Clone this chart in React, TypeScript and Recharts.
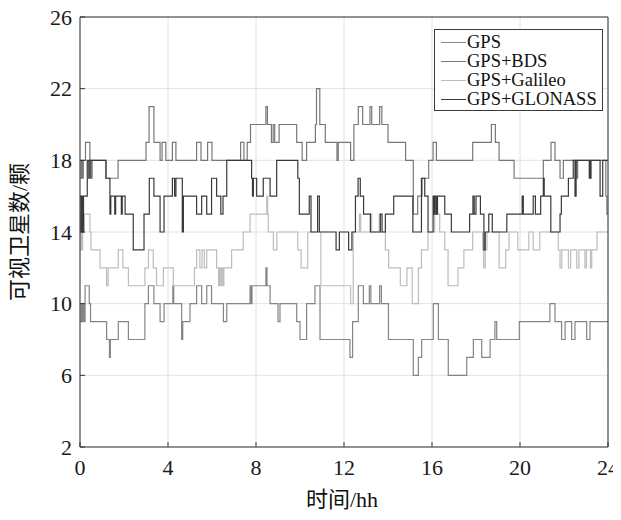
import React from 'react';
import { LineChart, Line, XAxis, YAxis, CartesianGrid, Legend } from 'recharts';

// ---- data ----
const seriesNames = ['GPS', 'GPS+BDS', 'GPS+Galileo', 'GPS+GLONASS'];
const xTicks = [0, 4, 8, 12, 16, 20, 24];
const yTicks = [2, 6, 10, 14, 18, 22, 26];

const gpsT = [0, 0.05, 0.1, 0.15, 0.2, 0.23, 0.42, 0.48, 1.21, 1.34, 1.38, 1.74, 2.2, 2.95, 3.11, 3.36, 3.64, 3.82, 4.22, 4.26, 4.62, 4.67, 5.0, 5.3, 5.53, 5.76, 5.98, 6.52, 6.67, 7.73, 7.78, 7.82, 8.45, 8.5, 8.64, 9.0, 9.09, 9.85, 10.0, 10.3, 10.68, 10.91, 12.27, 12.39, 12.65, 12.88, 13.15, 13.22, 13.62, 13.7, 14.02, 15.15, 15.38, 15.53, 16.06, 16.29, 16.74, 17.58, 17.88, 18.26, 18.64, 18.86, 18.94, 19.97, 21.36, 21.59, 21.89, 22.05, 22.35, 22.5, 23.03, 23.18, 24];
const gpsV = [9, 10, 9, 10, 9, 11, 10, 9, 8, 7, 8, 9, 8, 10, 11, 10, 9, 10, 11, 10, 8, 9, 10, 11, 10, 11, 10, 9, 10, 11, 10, 11, 12, 11, 10, 9, 10, 9, 8, 10, 11, 8, 7, 9, 11, 10, 11, 10, 11, 10, 8, 6, 7, 8, 10, 8, 6, 7, 8, 7, 8, 9, 8, 9, 10, 9, 8, 9, 8, 9, 8, 9, 9];

const bdsT = [0, 0.05, 0.1, 0.15, 0.25, 0.45, 0.5, 0.55, 1.18, 1.73, 3.0, 3.14, 3.36, 3.64, 3.73, 3.9, 4.2, 4.36, 5.3, 5.5, 5.8, 6.0, 7.3, 7.45, 7.6, 7.75, 8.45, 8.52, 8.7, 8.78, 8.85, 9.05, 9.85, 10.1, 10.3, 10.7, 10.75, 10.9, 11.15, 11.68, 11.74, 12.3, 12.45, 12.65, 12.85, 13.18, 13.26, 13.62, 13.72, 14.0, 14.8, 15.15, 15.35, 15.55, 15.85, 16.05, 16.2, 17.85, 18.7, 18.88, 19.05, 19.73, 21.06, 21.41, 21.59, 21.82, 21.97, 22.58, 22.62, 23.2, 23.24, 23.9, 23.95, 24];
const bdsV = [17, 18, 17, 18, 19, 18, 17, 18, 17, 18, 19, 21, 19, 18, 19, 18, 19, 18, 19, 18, 19, 18, 19, 18, 19, 20, 21, 20, 19, 20, 19, 20, 19, 18, 19, 20, 22, 20, 19, 18, 19, 18, 20, 21, 20, 21, 20, 21, 20, 19, 18, 15, 16, 17, 18, 19, 18, 19, 20, 19, 18, 17, 18, 19, 18, 17, 18, 17, 18, 17, 18, 16, 15, 15];

const galT = [0, 0.04, 0.08, 0.12, 0.16, 0.2, 0.45, 0.5, 0.91, 1.21, 1.28, 1.74, 1.95, 2.2, 2.95, 3.11, 3.33, 3.48, 3.79, 4.24, 5.2, 5.3, 5.45, 5.55, 5.65, 5.76, 6.21, 6.3, 6.34, 6.4, 6.44, 6.5, 6.54, 6.89, 7.42, 7.73, 8.49, 8.53, 8.56, 8.79, 8.95, 9.9, 10.05, 10.35, 10.95, 12.3, 12.42, 12.7, 12.76, 13.2, 13.26, 13.6, 13.66, 13.88, 14.03, 14.56, 14.86, 15.1, 15.38, 15.52, 15.82, 16.12, 16.35, 16.58, 16.73, 17.18, 17.45, 17.85, 18.3, 18.35, 18.42, 18.5, 19.05, 19.35, 19.5, 19.9, 20.4, 20.6, 20.9, 21.74, 21.82, 21.9, 22.2, 22.3, 22.58, 22.68, 22.95, 23.02, 23.2, 23.26, 23.5, 24];
const galV = [13, 15, 13, 15, 14, 15, 14, 13, 12, 11, 12, 13, 12, 11, 12, 13, 12, 11, 12, 11, 12, 13, 12, 13, 12, 13, 12, 11, 12, 11, 12, 11, 12, 13, 14, 15, 16, 15, 14, 13, 14, 13, 12, 14, 11, 10, 14, 15, 14, 15, 14, 15, 14, 13, 12, 11, 12, 10, 12, 13, 14, 15, 14, 13, 11, 12, 13, 14, 13, 12, 13, 14, 12, 13, 14, 13, 14, 13, 14, 13, 12, 13, 12, 13, 12, 13, 12, 13, 12, 13, 14, 14];

const gloT = [0, 0.04, 0.08, 0.12, 0.16, 0.33, 0.4, 0.46, 1.18, 1.36, 1.4, 1.58, 1.62, 1.88, 1.92, 2.05, 2.42, 2.91, 3.15, 3.36, 3.64, 3.82, 4.2, 4.3, 4.36, 4.65, 4.7, 5.3, 5.53, 5.76, 5.98, 6.21, 6.4, 6.5, 6.67, 7.8, 7.84, 7.88, 8.03, 8.33, 8.64, 8.94, 9.9, 9.97, 10.42, 10.5, 10.8, 10.88, 11.64, 11.79, 12.21, 12.36, 12.52, 12.64, 12.74, 12.89, 13.2, 13.65, 13.73, 13.88, 14.26, 15.13, 15.52, 15.67, 15.82, 16.05, 16.1, 16.14, 16.2, 16.25, 16.58, 16.88, 17.71, 17.86, 17.92, 18.0, 18.2, 18.36, 18.42, 18.58, 18.74, 19.4, 20.1, 20.15, 20.6, 20.7, 20.94, 21.06, 21.1, 21.4, 21.82, 21.88, 22.2, 22.42, 22.5, 22.55, 23.15, 23.2, 23.64, 23.76, 24];
const gloV = [16, 14, 16, 14, 16, 18, 17, 18, 17, 15, 16, 15, 16, 15, 16, 15, 13, 15, 17, 16, 14, 16, 17, 16, 17, 14, 16, 15, 16, 15, 17, 16, 15, 16, 18, 17, 16, 17, 16, 17, 16, 18, 17, 15, 16, 14, 16, 14, 13, 14, 13, 14, 16, 17, 16, 15, 14, 15, 14, 15, 16, 14, 17, 16, 14, 16, 15, 16, 15, 16, 15, 14, 15, 16, 15, 16, 15, 13, 14, 15, 14, 15, 16, 15, 16, 15, 16, 17, 16, 14, 15, 16, 17, 18, 16, 18, 17, 18, 16, 18, 18];

const toRows = (t: number[], v: number[]) => t.map((x, i) => ({ t: x, v: v[i] }));

const gpsData = toRows(gpsT, gpsV);
const bdsData = toRows(bdsT, bdsV);
const galData = toRows(galT, galV);
const gloData = toRows(gloT, gloV);

// ---- styles ----
const COLORS = ['#858585', '#787878', '#bdbdbd', '#3a3a3a'];
const AXIS = '#333333';
const SERIF = '"Liberation Serif", "Times New Roman", serif';
const LABEL_FONT = '"Liberation Serif", "Noto Sans CJK SC", serif';

const renderLegend = (props: any) => {
  const payload = [...(props.payload || [])].sort(
    (a: any, b: any) => seriesNames.indexOf(a.value) - seriesNames.indexOf(b.value)
  );
  return (
    <div
      style={{
        border: '1px solid #3a3a3a',
        background: '#fff',
        width: 169,
        height: 82,
        boxSizing: 'border-box',
        paddingTop: 3,
        fontFamily: SERIF,
        fontSize: 18.5,
        color: '#111',
      }}
    >
      {payload.map((e: any, i: number) => (
        <div key={i} style={{ display: 'flex', alignItems: 'center', height: 19, lineHeight: '19px' }}>
          <span
            style={{
              display: 'inline-block',
              width: 25,
              marginLeft: 6,
              height: 0,
              borderTop: `1.3px solid ${e.color}`,
            }}
          />
          <span style={{ marginLeft: 1, whiteSpace: 'nowrap' }}>{e.value}</span>
        </div>
      ))}
    </div>
  );
};

export default function App() {
  const tickStyle = { fontFamily: SERIF, fontSize: 22, fill: '#1a1a1a' };
  return (
    <div style={{ position: 'relative', width: 621, height: 520, marginTop: -8, marginLeft: -8 }}>
      <LineChart width={621} height={520} margin={{ top: 16, right: 12, bottom: 8, left: 8 }}>
        <CartesianGrid stroke="#e2e2e2" strokeWidth={1} />
        <XAxis
          dataKey="t"
          type="number"
          domain={[0, 24]}
          ticks={xTicks}
          interval={0}
          allowDataOverflow
          height={65}
          tickSize={-5}
          tickMargin={17}
          stroke={AXIS}
          tick={tickStyle}
        />
        <XAxis
          xAxisId="top"
          orientation="top"
          type="number"
          domain={[0, 24]}
          ticks={xTicks}
          interval={0}
          allowDataOverflow
          height={1}
          tickSize={-5}
          stroke={AXIS}
          tick={false}
        />
        <YAxis
          type="number"
          domain={[2, 26]}
          ticks={yTicks}
          interval={0}
          allowDataOverflow
          width={72}
          tickSize={-5}
          tickMargin={13}
          stroke={AXIS}
          tick={tickStyle}
        />
        <YAxis
          yAxisId="right"
          orientation="right"
          type="number"
          domain={[2, 26]}
          ticks={yTicks}
          interval={0}
          allowDataOverflow
          width={1}
          tickSize={-5}
          stroke={AXIS}
          tick={false}
        />
        <Legend
          layout="vertical"
          align="center"
          verticalAlign="middle"
          content={renderLegend}
          wrapperStyle={{ top: 29, left: 434, width: 169, height: 82 }}
        />
        <Line data={gpsData} dataKey="v" name={seriesNames[0]} type="stepAfter" stroke={COLORS[0]} strokeWidth={1.2} dot={false} isAnimationActive={false} />
        <Line data={bdsData} dataKey="v" name={seriesNames[1]} type="stepAfter" stroke={COLORS[1]} strokeWidth={1.2} dot={false} isAnimationActive={false} />
        <Line data={galData} dataKey="v" name={seriesNames[2]} type="stepAfter" stroke={COLORS[2]} strokeWidth={1.2} dot={false} isAnimationActive={false} />
        <Line data={gloData} dataKey="v" name={seriesNames[3]} type="stepAfter" stroke={COLORS[3]} strokeWidth={1.2} dot={false} isAnimationActive={false} />
      </LineChart>
      <div
        style={{
          position: 'absolute',
          left: 20,
          top: 232,
          transform: 'translate(-50%, -50%) rotate(-90deg)',
          whiteSpace: 'nowrap',
          fontFamily: LABEL_FONT,
          fontSize: 22,
          color: '#111',
          lineHeight: 1,
        }}
      >
        可视卫星数/颗
      </div>
      <div
        style={{
          position: 'absolute',
          left: 342,
          top: 500,
          transform: 'translate(-50%, -50%)',
          whiteSpace: 'nowrap',
          fontFamily: LABEL_FONT,
          fontSize: 22,
          color: '#111',
          lineHeight: 1,
        }}
      >
        时间/hh
      </div>
    </div>
  );
}
